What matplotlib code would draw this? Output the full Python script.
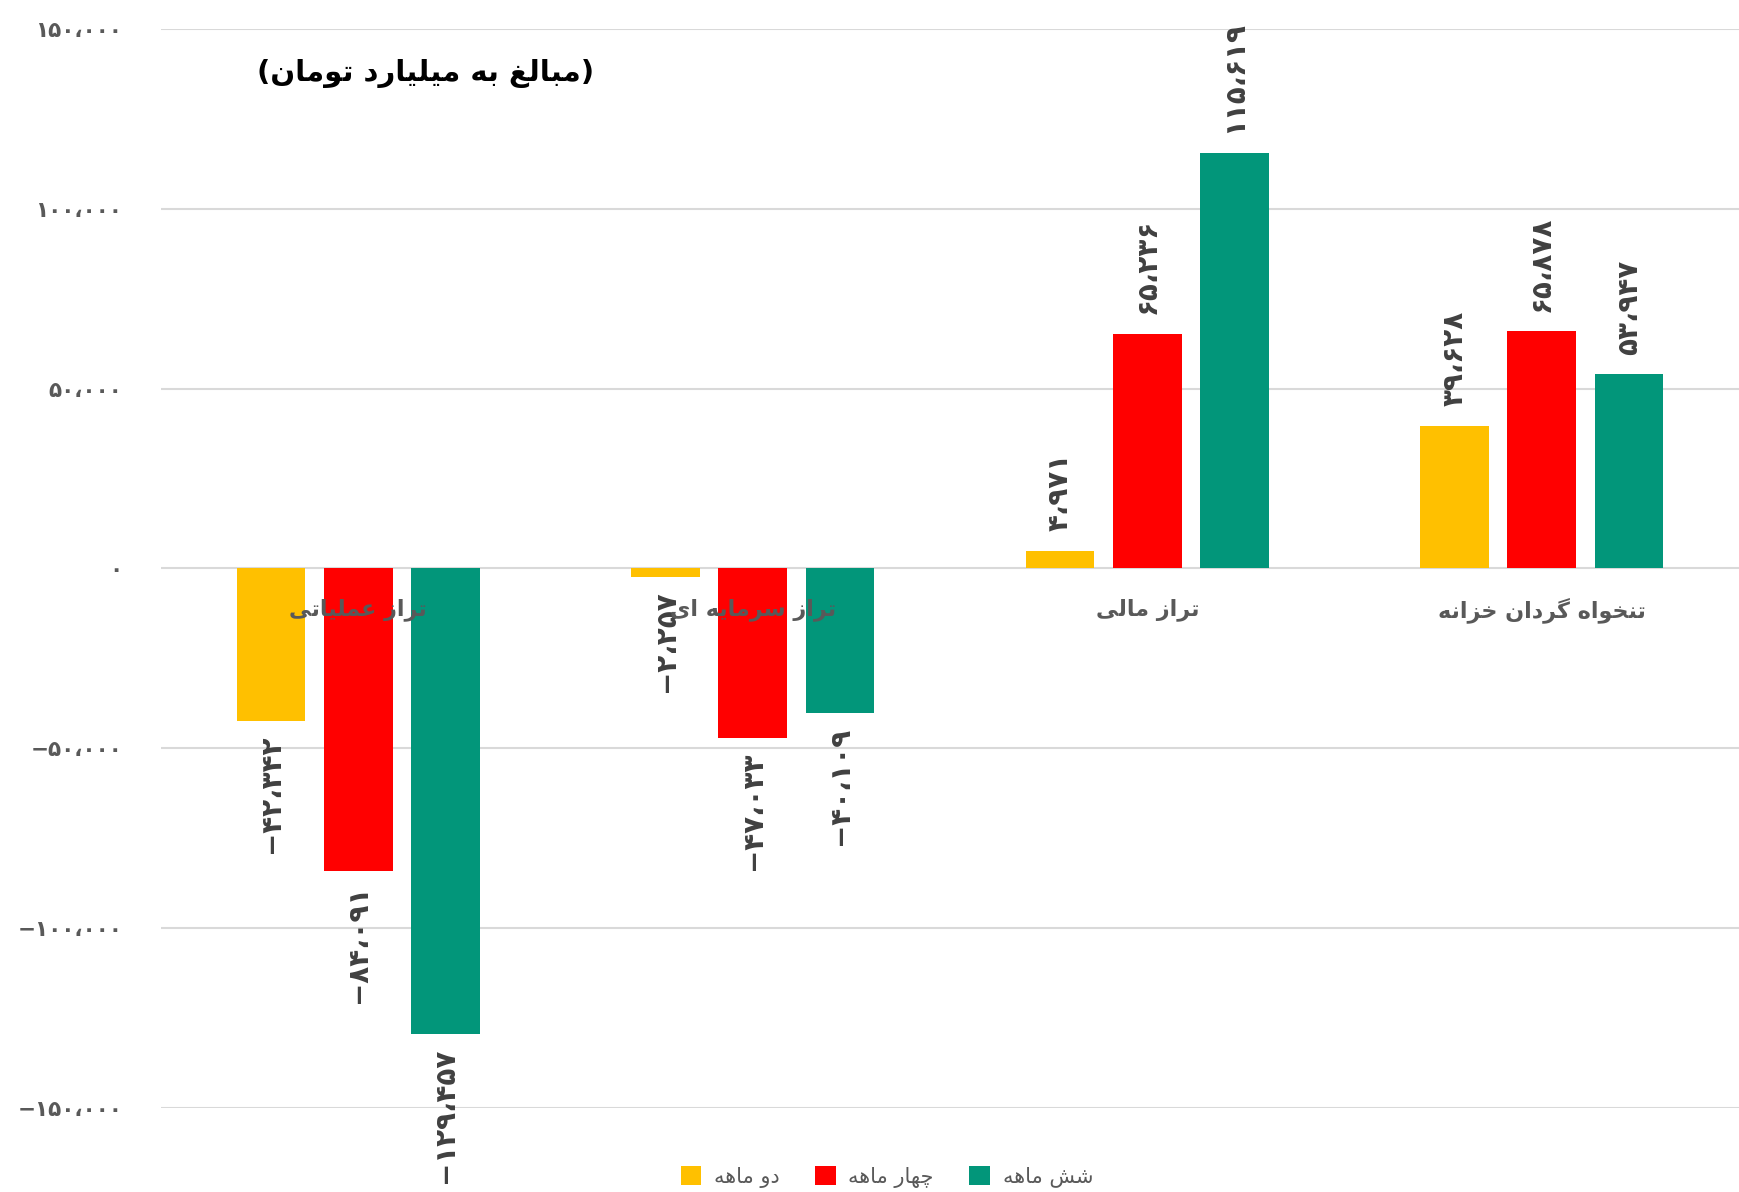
import numpy as np
import matplotlib
matplotlib.use("Agg")
import matplotlib.pyplot as plt
from matplotlib.ticker import FuncFormatter

categories = ["تراز عملیاتی", "تراز سرمایه ای", "تراز مالی", "تنخواه گردان خزانه"]
series_names = ["دو ماهه", "چهار ماهه", "شش ماهه"]
two_month = [-42342, -2257, 4971, 39628]
four_month = [-84091, -47033, 65236, 65878]
six_month = [-129457, -40109, 115619, 53947]
colors = ["#FFC000", "#FF0000", "#02967A"]
title_text = "(مبالغ به میلیارد تومان)"

# simple persian shaping (matplotlib has no bidi / joining)
FORMS = {
    "ا": ("\uFE8D", "\uFE8E", None, None),
    "ب": ("\uFE8F", "\uFE90", "\uFE91", "\uFE92"),
    "ت": ("\uFE95", "\uFE96", "\uFE97", "\uFE98"),
    "خ": ("\uFEA5", "\uFEA6", "\uFEA7", "\uFEA8"),
    "د": ("\uFEA9", "\uFEAA", None, None),
    "ر": ("\uFEAD", "\uFEAE", None, None),
    "ز": ("\uFEAF", "\uFEB0", None, None),
    "س": ("\uFEB1", "\uFEB2", "\uFEB3", "\uFEB4"),
    "ش": ("\uFEB5", "\uFEB6", "\uFEB7", "\uFEB8"),
    "ع": ("\uFEC9", "\uFECA", "\uFECB", "\uFECC"),
    "غ": ("\uFECD", "\uFECE", "\uFECF", "\uFED0"),
    "ل": ("\uFEDD", "\uFEDE", "\uFEDF", "\uFEE0"),
    "م": ("\uFEE1", "\uFEE2", "\uFEE3", "\uFEE4"),
    "ن": ("\uFEE5", "\uFEE6", "\uFEE7", "\uFEE8"),
    "ه": ("\uFEE9", "\uFEEA", "\uFEEB", "\uFEEC"),
    "و": ("\uFEED", "\uFEEE", None, None),
    "ی": ("\uFBFC", "\uFBFD", "\uFBFE", "\uFBFF"),
    "چ": ("\uFB7A", "\uFB7B", "\uFB7C", "\uFB7D"),
    "گ": ("\uFB92", "\uFB93", "\uFB94", "\uFB95"),
}
MIRROR = {"(": ")", ")": "("}


def fa(s):
    out = []
    for i, ch in enumerate(s):
        if ch not in FORMS:
            out.append(ch)
            continue
        prev = s[i - 1] if i > 0 else ""
        nxt = s[i + 1] if i + 1 < len(s) else ""
        join_prev = prev in FORMS and FORMS[prev][2] is not None
        join_next = nxt in FORMS and FORMS[ch][2] is not None
        iso, fin, ini, med = FORMS[ch]
        if join_prev and join_next:
            out.append(med)
        elif join_prev:
            out.append(fin)
        elif join_next:
            out.append(ini)
        else:
            out.append(iso)
    return "".join(MIRROR.get(c, c) for c in reversed(out))


PDIG = str.maketrans("0123456789,", "۰۱۲۳۴۵۶۷۸۹،")


def fa_num(v):
    if v == 0:
        return "٠"
    s = "{:,}".format(int(abs(v))).translate(PDIG)
    return ("\u2212" + s) if v < 0 else s


plt.rcParams["font.family"] = ["DejaVu Sans"]

fig = plt.figure(figsize=(17.39, 11.92), dpi=100)
ax = fig.add_axes([0.0926, 0.0705, 0.9074, 0.9053])

x = np.arange(len(categories))
offset = 0.221
width = 0.174
all_series = [two_month, four_month, six_month]
for k, (vals, col, name) in enumerate(zip(all_series, colors, series_names)):
    xs = x + (k - 1) * offset
    ax.bar(xs, vals, width, color=col, label=fa(name), zorder=2)
    for xi, v in zip(xs, vals):
        ax.annotate(fa_num(v), (xi, v), xytext=(0, 14 if v > 0 else -10),
                    textcoords="offset points", rotation=90, ha="center",
                    va="bottom" if v > 0 else "top", fontsize=20,
                    fontweight="bold", color="#404040", zorder=3)

for xi, c in zip(x, categories):
    ax.text(xi, -11500, fa(c), ha="center", va="center", fontsize=16,
            fontweight="bold", color="#595959", zorder=4)

ax.set_xlim(-0.5, 3.5)
ax.set_ylim(-150000, 150000)
ax.set_yticks(np.arange(-150000, 150001, 50000))
ax.yaxis.set_major_formatter(FuncFormatter(lambda v, p: fa_num(v)))
ax.set_xticks([])
ax.tick_params(axis="y", length=0, pad=28, labelsize=15.5, labelcolor="#595959")
for lab in ax.get_yticklabels():
    lab.set_fontweight("bold")
ax.grid(axis="y", color="#D9D9D9", linewidth=1.5, zorder=0)
for sp in ax.spines.values():
    sp.set_visible(False)

fig.text(0.2445, 0.938, fa(title_text), ha="center", va="center",
         fontsize=21, fontweight="bold", color="black")

leg = fig.legend(loc="lower center", bbox_to_anchor=(0.51, -0.012), ncol=3,
                 frameon=False, fontsize=15, handlelength=1.0, handleheight=1.0,
                 columnspacing=1.7, handletextpad=0.6)
for t in leg.get_texts():
    t.set_color("#595959")

fig.savefig("out.png", dpi=100)
